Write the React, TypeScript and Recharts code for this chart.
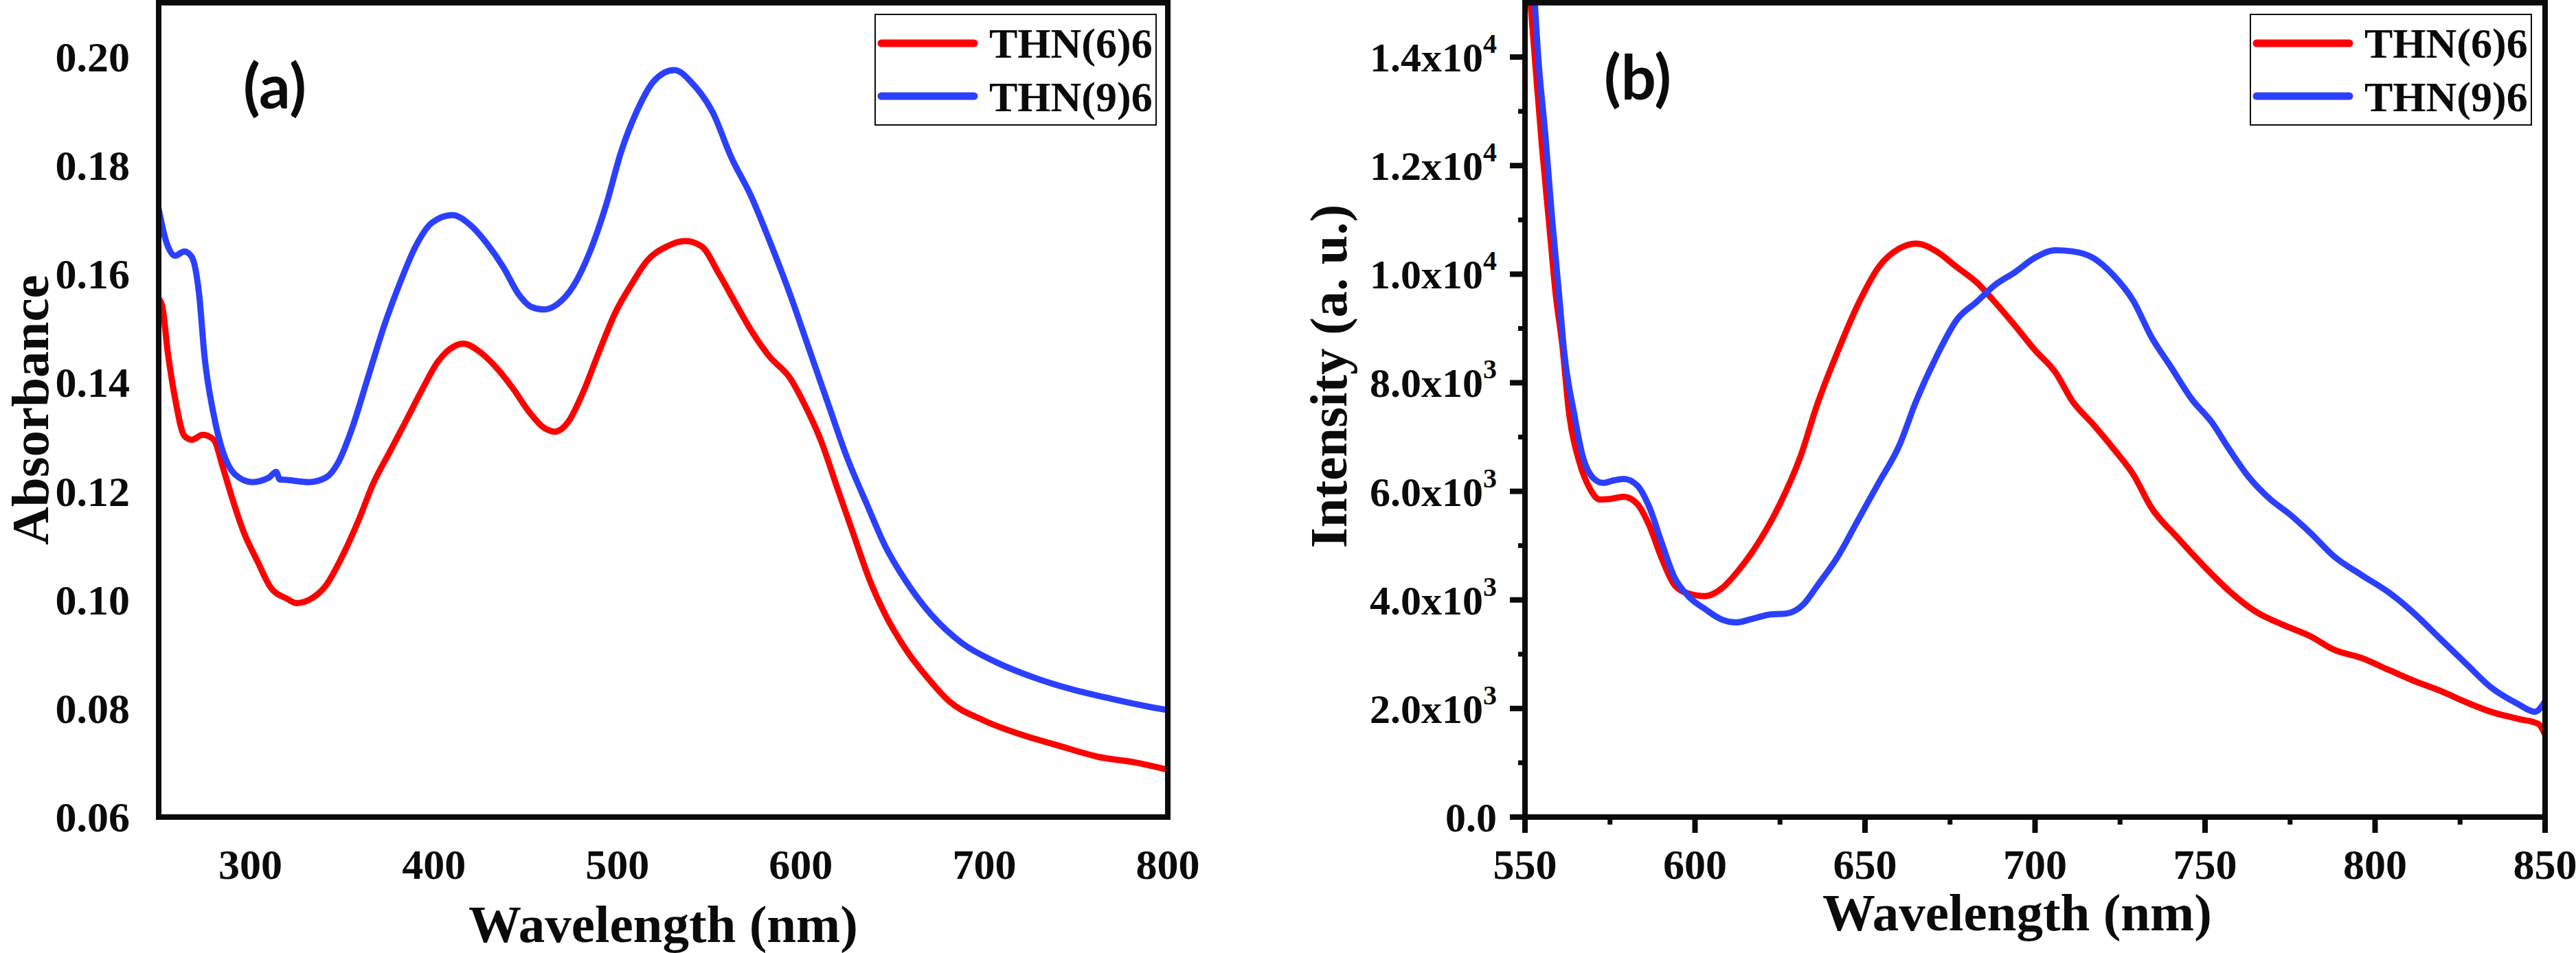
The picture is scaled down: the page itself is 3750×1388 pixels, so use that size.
import React from 'react';
import { LineChart, Line, XAxis, YAxis, Legend, ReferenceLine } from 'recharts';

// ---------- Panel (a): UV-Vis absorbance ----------
const absWavelength66 = [250, 252, 255, 259, 264, 268, 274, 280, 285, 290, 296, 304, 311, 320, 325, 334, 341, 350, 359, 367, 376, 385, 394, 402, 411, 416, 425, 434, 443, 452, 460, 466, 473, 481, 490, 499, 508, 516, 527, 537, 546, 555, 564, 573, 583, 594, 602, 611, 620, 629, 637, 646, 657, 669, 681, 699, 720, 741, 762, 783, 800];
const absValues66 = [0.1555, 0.154, 0.1455, 0.137, 0.1302, 0.1295, 0.1304, 0.1295, 0.1244, 0.1188, 0.1128, 0.107, 0.1023, 0.1002, 0.0994, 0.1004, 0.1026, 0.108, 0.1147, 0.1215, 0.1273, 0.1331, 0.139, 0.1438, 0.1467, 0.1472, 0.1457, 0.1428, 0.139, 0.1346, 0.1317, 0.131, 0.1327, 0.138, 0.1457, 0.153, 0.1583, 0.1624, 0.1651, 0.1661, 0.1651, 0.1603, 0.1549, 0.1496, 0.1448, 0.1409, 0.136, 0.1293, 0.1205, 0.1118, 0.1041, 0.0973, 0.091, 0.0857, 0.0813, 0.0779, 0.0752, 0.0731, 0.0711, 0.07, 0.0687];
const absWavelength96 = [250, 254, 259, 264, 268, 272, 275, 280, 285, 292, 301, 310, 314, 316, 320, 332, 341, 348, 355, 364, 373, 382, 390, 399, 410, 420, 429, 438, 446, 453, 460, 467, 476, 485, 494, 502, 511, 520, 531, 541, 552, 562, 573, 583, 594, 604, 615, 625, 636, 646, 657, 671, 688, 706, 727, 748, 769, 790, 800];
const absValues96 = [0.172, 0.1661, 0.1634, 0.1642, 0.1632, 0.1564, 0.1448, 0.1341, 0.1273, 0.123, 0.1217, 0.1225, 0.1236, 0.1222, 0.1221, 0.1217, 0.1225, 0.1254, 0.1312, 0.1409, 0.1506, 0.1588, 0.1651, 0.1695, 0.1709, 0.169, 0.1656, 0.1612, 0.1564, 0.154, 0.1535, 0.1544, 0.1578, 0.1641, 0.1729, 0.1825, 0.1903, 0.1956, 0.1976, 0.1951, 0.1898, 0.1816, 0.1743, 0.1661, 0.1564, 0.1467, 0.136, 0.1264, 0.1176, 0.1099, 0.1036, 0.0973, 0.092, 0.0886, 0.0857, 0.0835, 0.0818, 0.0803, 0.0797];

// ---------- Panel (b): PL intensity ----------
const plWavelength66 = [550, 553, 555, 557, 559, 561, 563, 566, 569, 572, 575, 579, 583, 586.5, 590, 594, 598, 603, 608, 613, 619, 625, 631, 636, 642, 648, 654, 660, 665, 671, 677, 683, 688, 694, 700, 706, 711, 717, 723, 729, 734, 742, 750, 757, 765, 773, 781, 788, 796, 804, 811, 819, 827, 834, 842, 848, 850];
const plValues66 = [16300, 13900, 12350, 11000, 9650, 8680, 7420, 6540, 6060, 5850, 5860, 5900, 5770, 5380, 4800, 4270, 4120, 4070, 4220, 4560, 5090, 5770, 6640, 7610, 8580, 9450, 10130, 10470, 10565, 10420, 10130, 9840, 9500, 9060, 8600, 8190, 7660, 7240, 6790, 6300, 5720, 5140, 4600, 4170, 3780, 3540, 3330, 3080, 2930, 2710, 2520, 2330, 2110, 1940, 1810, 1716, 1520];
const plWavelength96 = [551, 554, 556, 558, 560, 561.5, 564.5, 567, 570, 573, 576, 579, 583, 586.5, 590, 594, 598, 603, 608, 612, 617, 622, 627, 632, 636, 642, 648, 654, 660, 665, 671, 677, 683, 688, 694, 700, 706, 711, 717, 723, 729, 734, 740, 746, 752, 757, 763, 769, 775, 781, 788, 796, 804, 811, 819, 827, 834, 842, 847, 850];
const plValues96 = [17200, 13910, 12550, 11000, 9645, 8580, 7415, 6640, 6250, 6155, 6200, 6230, 6110, 5720, 5090, 4410, 4070, 3830, 3635, 3586, 3654, 3732, 3751, 3926, 4265, 4798, 5477, 6155, 6834, 7657, 8481, 9160, 9499, 9790, 10032, 10304, 10439, 10420, 10304, 9984, 9499, 8869, 8287, 7706, 7270, 6785, 6252, 5864, 5573, 5234, 4798, 4459, 4139, 3780, 3296, 2811, 2394, 2084, 1939, 2132];

const seriesNames = ['THN(6)6', 'THN(9)6'];
const seriesColors = ['#FF0000', '#2B40FF'];

const absXTicks = [300, 400, 500, 600, 700, 800];
const absYTicks = [0.06, 0.08, 0.1, 0.12, 0.14, 0.16, 0.18, 0.2];
const absYTickLabels = ['0.06', '0.08', '0.10', '0.12', '0.14', '0.16', '0.18', '0.20'];

const plXTicks = [550, 575, 600, 625, 650, 675, 700, 725, 750, 775, 800, 825, 850];
const plXTickLabels = ['550', '', '600', '', '650', '', '700', '', '750', '', '800', '', '850'];
const plYTicks = [0, 1000, 2000, 3000, 4000, 5000, 6000, 7000, 8000, 9000, 10000, 11000, 12000, 13000, 14000];
const plYMantissa = ['0.0', '', '2.0', '', '4.0', '', '6.0', '', '8.0', '', '1.0', '', '1.2', '', '1.4'];
const plYExponent = ['', '', '3', '', '3', '', '3', '', '3', '', '4', '', '4', '', '4'];

const toPoints = (xs: number[], ys: number[]) => xs.map((x, i) => ({ x, y: ys[i] }));

const SERIF = "'Liberation Serif', 'Times New Roman', serif";
const INK = '#0b0b0b';
const TICK_FONT = 62;
const TITLE_FONT = 77;

const findIdx = (arr: number[], v: number) => arr.findIndex((a) => Math.abs(a - v) < 1e-9);

const AbsXTick = (props: any) => {
  const { x, y, payload } = props;
  const i = findIdx(absXTicks, payload.value);
  return (
    <text x={x} y={y + 90} textAnchor="middle" fontFamily={SERIF} fontWeight="bold" fontSize={TICK_FONT} fill={INK}>
      {i >= 0 ? String(absXTicks[i]) : ''}
    </text>
  );
};

const AbsYTick = (props: any) => {
  const { x, y, payload } = props;
  const i = findIdx(absYTicks, payload.value);
  return (
    <text x={x - 42} y={y + 21} textAnchor="end" fontFamily={SERIF} fontWeight="bold" fontSize={TICK_FONT} fill={INK}>
      {i >= 0 ? absYTickLabels[i] : ''}
    </text>
  );
};

const PlXTick = (props: any) => {
  const { x, y, payload } = props;
  const i = findIdx(plXTicks, payload.value);
  const label = i >= 0 ? plXTickLabels[i] : '';
  const major = label !== '';
  return (
    <g>
      <line x1={x} x2={x} y1={y} y2={y + (major ? 23 : 11)} stroke={INK} strokeWidth={major ? 8 : 7} />
      {major && (
        <text x={x} y={y + 90} textAnchor="middle" fontFamily={SERIF} fontWeight="bold" fontSize={TICK_FONT} fill={INK}>
          {label}
        </text>
      )}
    </g>
  );
};

const PlYTick = (props: any) => {
  const { x, y, payload } = props;
  const i = findIdx(plYTicks, payload.value);
  const mant = i >= 0 ? plYMantissa[i] : '';
  const exp = i >= 0 ? plYExponent[i] : '';
  const major = mant !== '';
  return (
    <g>
      <line x1={x - (major ? 22 : 10)} x2={x} y1={y} y2={y} stroke={INK} strokeWidth={major ? 8 : 7} />
      {major && (
        <text x={x - 41} y={y + 21} textAnchor="end" fontFamily={SERIF} fontWeight="bold" fontSize={60} fill={INK}>
          {exp ? (
            <>
              <tspan>{mant + 'x10'}</tspan>
              <tspan dy={-27} fontSize={40}>{exp}</tspan>
            </>
          ) : (
            <tspan>{mant}</tspan>
          )}
        </text>
      )}
    </g>
  );
};

const LegendBox = () => (
  <svg width={411} height={163} style={{ display: 'block' }}>
    <rect x={1} y={1} width={409} height={161} fill="#fff" stroke={INK} strokeWidth={2} />
    {seriesNames.map((name, i) => (
      <g key={name}>
        <line x1={10} x2={145} y1={43 + i * 77} y2={43 + i * 77} stroke={seriesColors[i]} strokeWidth={11} strokeLinecap="round" />
        <text x={167} y={64 + i * 78} fontFamily={SERIF} fontWeight="bold" fontSize={62} fill={INK}>
          {name}
        </text>
      </g>
    ))}
  </svg>
);

const axisLineStyle = { stroke: INK, strokeWidth: 8, strokeLinecap: 'square' as const };

const AbsChart = () => (
  <LineChart width={1750} height={1388} margin={{ top: 4, right: 50, bottom: 8, left: 0 }}>
    <XAxis
      type="number"
      dataKey="x"
      domain={[250, 800]}
      ticks={absXTicks}
      interval={0}
      allowDataOverflow
      tickLine={false}
      tickSize={0}
      tickMargin={0}
      axisLine={axisLineStyle}
      height={190}
      tick={<AbsXTick />}
      label={{
        content: (p: any) => {
          const vb = p.viewBox || { x: 231, y: 1190, width: 1469, height: 190 };
          return (
            <text x={vb.x + vb.width / 2} y={vb.y + 182} textAnchor="middle" fontFamily={SERIF} fontWeight="bold" fontSize={TITLE_FONT} fill={INK}>
              Wavelength (nm)
            </text>
          );
        },
      }}
    />
    <YAxis
      type="number"
      domain={[0.06, 0.21]}
      ticks={absYTicks}
      interval={0}
      allowDataOverflow
      tickLine={false}
      tickSize={0}
      tickMargin={0}
      axisLine={axisLineStyle}
      width={231}
      tick={<AbsYTick />}
      label={{
        content: (p: any) => {
          const vb = p.viewBox || { x: 0, y: 4, width: 231, height: 1186 };
          const cx = vb.x + 70;
          const cy = vb.y + vb.height / 2;
          return (
            <text x={cx} y={cy} transform={`rotate(-90, ${cx}, ${cy})`} textAnchor="middle" fontFamily={SERIF} fontWeight="bold" fontSize={TITLE_FONT} fill={INK}>
              Absorbance
            </text>
          );
        },
      }}
    />
    <Line data={toPoints(absWavelength66, absValues66)} dataKey="y" name={seriesNames[0]} type="monotone" stroke={seriesColors[0]} strokeWidth={9} dot={false} activeDot={false} isAnimationActive={false} />
    <Line data={toPoints(absWavelength96, absValues96)} dataKey="y" name={seriesNames[1]} type="monotone" stroke={seriesColors[1]} strokeWidth={9} dot={false} activeDot={false} isAnimationActive={false} />
    <ReferenceLine x={800} stroke={INK} strokeWidth={8} strokeLinecap="square" />
    <ReferenceLine y={0.21} stroke={INK} strokeWidth={8} strokeLinecap="square" />
    <Legend layout="horizontal" verticalAlign="middle" align="center" wrapperStyle={{ left: 1273, top: 20, width: 411, height: 163 }} content={() => <LegendBox />} />
  </LineChart>
);

const PlChart = () => (
  <LineChart width={2000} height={1388} margin={{ top: 4, right: 45, bottom: 8, left: 0 }}>
    <XAxis
      type="number"
      dataKey="x"
      domain={[550, 850]}
      ticks={plXTicks}
      interval={0}
      allowDataOverflow
      tickLine={false}
      tickSize={0}
      tickMargin={0}
      axisLine={axisLineStyle}
      height={190}
      tick={<PlXTick />}
      label={{
        content: (p: any) => {
          const vb = p.viewBox || { x: 470, y: 1190, width: 1485, height: 190 };
          return (
            <text x={vb.x + vb.width / 2 - 26} y={vb.y + 165} textAnchor="middle" fontFamily={SERIF} fontWeight="bold" fontSize={TITLE_FONT} fill={INK}>
              Wavelength (nm)
            </text>
          );
        },
      }}
    />
    <YAxis
      type="number"
      domain={[0, 15000]}
      ticks={plYTicks}
      interval={0}
      allowDataOverflow
      tickLine={false}
      tickSize={0}
      tickMargin={0}
      axisLine={axisLineStyle}
      width={470}
      tick={<PlYTick />}
      label={{
        content: (p: any) => {
          const vb = p.viewBox || { x: 0, y: 4, width: 470, height: 1186 };
          const cx = vb.x + 210;
          const cy = vb.y + vb.height / 2 - 49;
          return (
            <text x={cx} y={cy} transform={`rotate(-90, ${cx}, ${cy})`} textAnchor="middle" fontFamily={SERIF} fontWeight="bold" fontSize={TITLE_FONT} fill={INK}>
              Intensity (a. u.)
            </text>
          );
        },
      }}
    />
    <Line data={toPoints(plWavelength66, plValues66)} dataKey="y" name={seriesNames[0]} type="monotone" stroke={seriesColors[0]} strokeWidth={9} dot={false} activeDot={false} isAnimationActive={false} />
    <Line data={toPoints(plWavelength96, plValues96)} dataKey="y" name={seriesNames[1]} type="monotone" stroke={seriesColors[1]} strokeWidth={9} dot={false} activeDot={false} isAnimationActive={false} />
    <ReferenceLine x={850} stroke={INK} strokeWidth={8} strokeLinecap="square" />
    <ReferenceLine y={15000} stroke={INK} strokeWidth={8} strokeLinecap="square" />
    <Legend layout="horizontal" verticalAlign="middle" align="center" wrapperStyle={{ left: 1525, top: 20, width: 411, height: 163 }} content={() => <LegendBox />} />
  </LineChart>
);

export default function App() {
  return (
    <div style={{ position: 'absolute', left: 0, top: 0, width: 3750, height: 1388, background: '#fff', overflow: 'hidden' }}>
      <div style={{ position: 'absolute', left: 0, top: 0 }}>
        <AbsChart />
      </div>
      <div style={{ position: 'absolute', left: 1750, top: 0 }}>
        <PlChart />
      </div>
      <svg width={3750} height={1388} style={{ position: 'absolute', left: 0, top: 0, pointerEvents: 'none' }}>
        <text x={400} y={158} textAnchor="middle" fontFamily="Lato, 'Open Sans', sans-serif" fontWeight="bold" fontSize={90} fill={INK}>
          (a)
        </text>
        <text x={2384} y={145} textAnchor="middle" fontFamily="Lato, 'Open Sans', sans-serif" fontWeight="bold" fontSize={90} fill={INK}>
          (b)
        </text>
      </svg>
    </div>
  );
}
